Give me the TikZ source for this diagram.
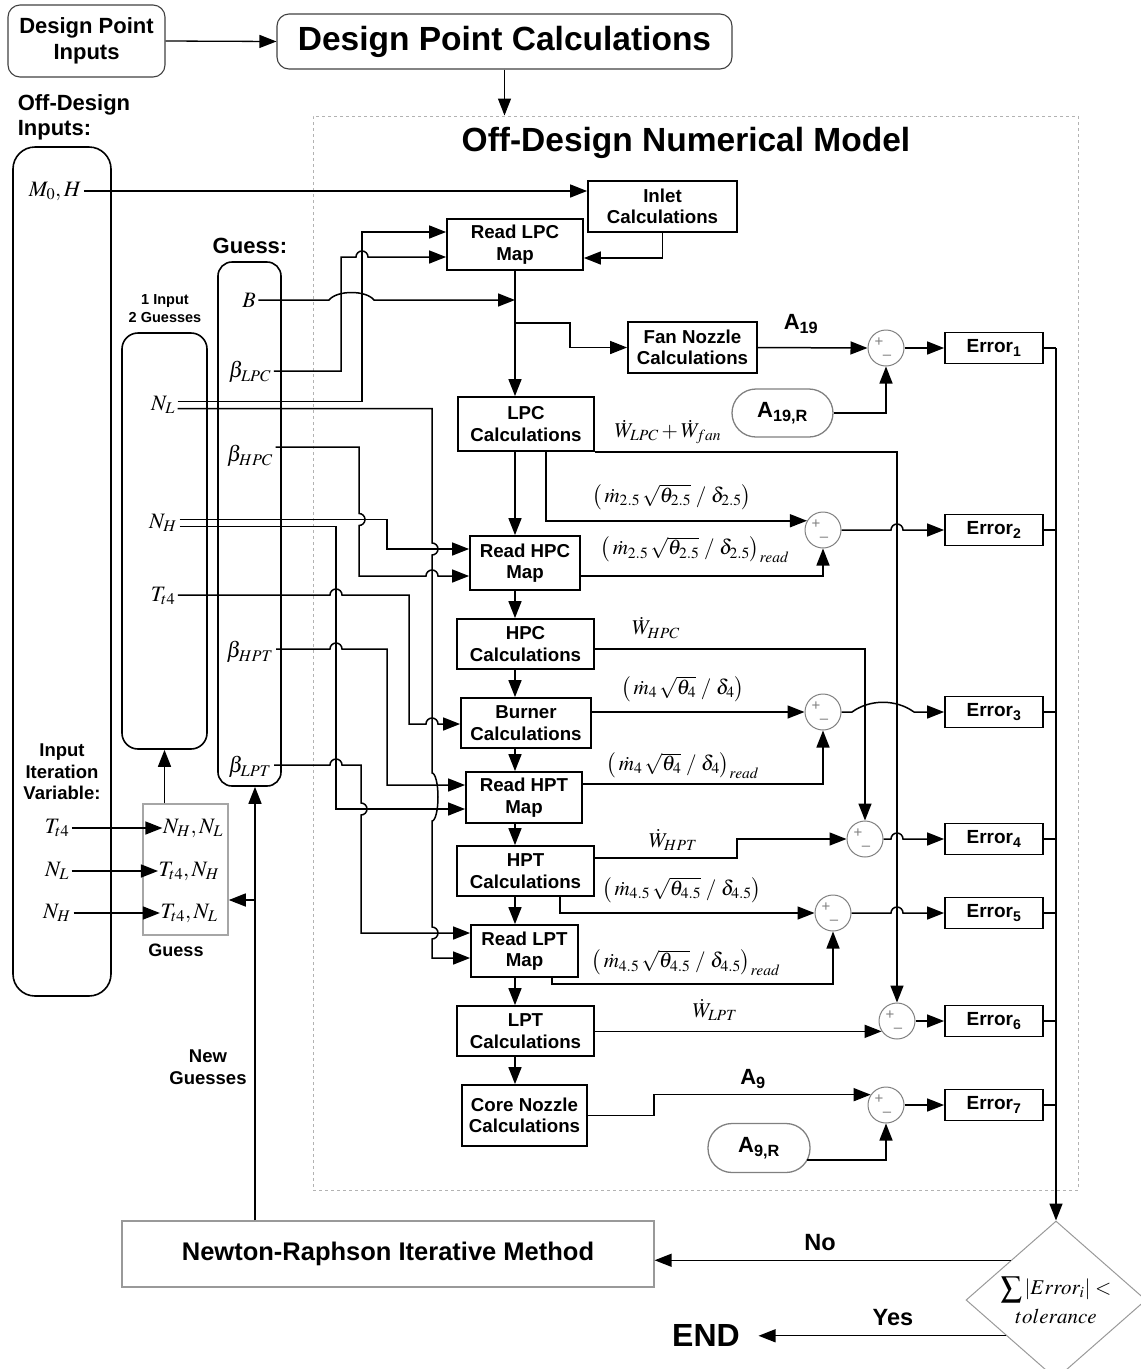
\documentclass[tikz,border=0pt]{standalone}
\usepackage{mathptmx}
\usepackage[no-math]{fontspec}
\setmainfont{Liberation Sans}
\usetikzlibrary{arrows.meta,calc,shapes.geometric}
\newcommand\hj[2]{-- ({#1-6},#2) arc[start angle=180,end angle=0,radius=6pt]}
\newcommand\vj[2]{-- (#1,{#2-6}) arc[start angle=90,end angle=-90,radius=6pt]}
\newcommand\fs[2]{\fontsize{#1}{#2}\selectfont}
\begin{document}
\begin{tikzpicture}[x=1pt,y=-1pt,line width=1.5pt,
  arr/.style={-{Triangle[length=17pt,width=13pt]}},
  blk/.style={draw,line width=1.8pt,fill=white,align=center,inner sep=0pt,font=\fs{18.7}{21.5}\bfseries},
  err/.style={blk,minimum width=98pt,minimum height=31pt,font=\fs{19}{21}\bfseries},
  sumc/.style={circle,draw=gray,line width=1pt,minimum size=36pt,inner sep=0pt,fill=white},
  sgn/.style={text=gray,font=\fs{15}{15},inner sep=0pt},
  refn/.style={draw=gray,line width=1.3pt,rounded corners=24pt,inner sep=0pt,font=\fs{22}{24}\bfseries},
  ml/.style={font=\fs{21}{24},inner sep=1pt},
  vl/.style={font=\fs{22}{24},inner sep=2pt},
  lbl/.style={font=\fs{18.5}{21.5}\bfseries,align=center,inner sep=0pt},
  colbox/.style={draw,line width=1.6pt},
  topbox/.style={draw=black!75,line width=1.1pt,rounded corners=12pt,align=center,inner sep=0pt}]
\useasboundingbox (0,0) rectangle (1141,1369);
\clip (0,0) rectangle (1141,1369);

% ---------- top ----------
\node[topbox,minimum width=157pt,minimum height=72pt,font=\fs{22}{26}\bfseries] (dpi) at (86.5,41) {Design Point\\Inputs};
\node[topbox,minimum width=455pt,minimum height=55pt,font=\fs{33.5}{36}\bfseries] (dpc) at (504.5,41.5) {Design Point Calculations};
\node[draw=gray!60,dashed,line width=1pt,minimum width=765pt,minimum height=1074pt,inner sep=0pt] (frame) at (695.5,653) {};
\node[font=\fs{33.5}{36}\bfseries] (title) at (686,143) {Off-Design Numerical Model};
\draw[arr,line width=1.3pt] (dpi.east) -- (dpc.west);
\draw[arr,line width=1.3pt] (dpc.south) -- (dpc.south |- frame.north);

% ---------- left columns ----------
\node[font=\fs{22}{24.5}\bfseries,align=left,anchor=north west,inner sep=0pt] (odi) at (17,94) {Off-Design\\Inputs:};
\node[colbox,rounded corners=22pt,minimum width=98pt,minimum height=849pt] (lb) at (62,571.5) {};
\node[colbox,rounded corners=16pt,minimum width=85pt,minimum height=416pt] (ib) at (164.5,541) {};
\node[colbox,rounded corners=14pt,minimum width=63pt,minimum height=524pt] (gbox) at (249.5,524) {};
\node[font=\fs{22}{24}\bfseries] (guessl) at (250,246) {Guess:};
\node[font=\fs{14.5}{18}\bfseries,align=center] (ig) at (165,309) {1 Input\\2 Guesses};

\node[vl] (M0) at (55,191) {$M_0,H$};
\node[vl] (B) at (249,300) {$B$};
\node[vl] (bLPC) at (250,372) {$\beta_{LPC}$};
\node[vl] (bHPC) at (250,456) {$\beta_{HPC}$};
\node[vl] (bHPT) at (250,652) {$\beta_{HPT}$};
\node[vl] (bLPT) at (250,767) {$\beta_{LPT}$};
\node[vl] (NL) at (163,405) {$N_L$};
\node[vl] (NH) at (163,523) {$N_H$};
\node[vl] (Tt4) at (163,596) {$T_{t4}$};

\node[lbl,font=\fs{18.5}{21.5}\bfseries] (iiv) at (62,772) {Input\\Iteration\\Variable:};
\node[vl] (iT) at (57,828) {$T_{t4}$};
\node[vl] (iL) at (57,871) {$N_L$};
\node[vl] (iH) at (57,913) {$N_H$};
\node[draw=gray!70,line width=1.5pt,minimum width=85pt,minimum height=131pt,inner sep=0pt] (gg) at (185.5,869.5) {};
\node[vl,inner sep=0pt] (g1) at (193,828) {$N_H,N_L$};
\node[vl,inner sep=0pt] (g2) at (189,871) {$T_{t4},N_H$};
\node[vl,inner sep=0pt] (g3) at (189,913) {$T_{t4},N_L$};
\node[lbl,font=\fs{18}{21}\bfseries] (gl) at (176,950) {Guess};
\node[lbl] (ng) at (208,1067) {New\\Guesses};
\draw[arr] (iT.east) -- (g1.west);
\draw[arr] (iL.east) -- (g2.west);
\draw[arr] (iH.east) -- (g3.west);
\draw[arr] (gg.north -| ib.south) -- (ib.south);

% ---------- blocks ----------
\node[blk,minimum width=149pt,minimum height=51pt] (inlet) at (662.5,206.5) {Inlet\\Calculations};
\node[blk,minimum width=136pt,minimum height=51pt] (rlpc) at (515,244.5) {Read LPC\\Map};
\node[blk,minimum width=129pt,minimum height=51pt] (fan) at (692.5,347.5) {Fan Nozzle\\Calculations};
\node[blk,minimum width=136pt,minimum height=54pt] (lpc) at (526,424) {LPC\\Calculations};
\node[blk,minimum width=110pt,minimum height=54pt] (rhpc) at (525,563) {Read HPC\\Map};
\node[blk,minimum width=137pt,minimum height=50pt] (hpc) at (525.5,644) {HPC\\Calculations};
\node[blk,minimum width=130pt,minimum height=50pt] (burner) at (526,723) {Burner\\Calculations};
\node[blk,minimum width=116pt,minimum height=51pt] (rhpt) at (524,797.5) {Read HPT\\Map};
\node[blk,minimum width=137pt,minimum height=50pt] (hpt) at (525.5,871) {HPT\\Calculations};
\node[blk,minimum width=107pt,minimum height=52pt] (rlpt) at (524.5,951) {Read LPT\\Map};
\node[blk,minimum width=137pt,minimum height=50pt] (lpt) at (525.5,1031) {LPT\\Calculations};
\node[blk,minimum width=125pt,minimum height=61pt] (cn) at (524.5,1115.5) {Core Nozzle\\Calculations};

\node[err] (err1) at (994,348) {Error\textsubscript{1}};
\node[err] (err2) at (994,530) {Error\textsubscript{2}};
\node[err] (err3) at (994,712) {Error\textsubscript{3}};
\node[err] (err4) at (994,839) {Error\textsubscript{4}};
\node[err] (err5) at (994,913) {Error\textsubscript{5}};
\node[err] (err6) at (994,1021) {Error\textsubscript{6}};
\node[err] (err7) at (994,1105) {Error\textsubscript{7}};

\foreach \n/\p in {S1/{886,348},S2/{823,530},S3/{823,712},S4/{865,839},S5/{833,913},S6/{897,1021},S7/{886,1105}}{
  \node[sumc] (\n) at (\p) {};
  \node[sgn] (\n p) at ($(\n)+(-7,-6)$) {+};
  \node[sgn] (\n m) at ($(\n)+(1,9)$) {--};
}

\node[refn,minimum width=101pt,minimum height=48pt] (a19r) at (782.5,413) {A\textsubscript{19,R}};
\node[refn,minimum width=102pt,minimum height=49pt] (a9r) at (759,1148) {A\textsubscript{9,R}};
\node[font=\fs{22}{24}\bfseries] (a19) at (801,324) {A\textsubscript{19}};
\node[font=\fs{22}{24}\bfseries] (a9) at (753,1079) {A\textsubscript{9}};

% math labels
\node[ml] (lw1) at (668,432) {$\dot W_{LPC}+\dot W_{fan}$};
\node[ml] (lm25) at (672,497) {$\left(\,\dot m_{2.5}\,\sqrt{\theta_{2.5}}\;/\;\delta_{2.5}\right)$};
\node[ml] (lm25r) at (695,550) {$\left(\,\dot m_{2.5}\,\sqrt{\theta_{2.5}}\;/\;\delta_{2.5}\right)_{read}$};
\node[ml] (lwh) at (656,628) {$\dot W_{HPC}$};
\node[ml] (lm4) at (683,689) {$\left(\,\dot m_{4}\,\sqrt{\theta_{4}}\;/\;\delta_{4}\right)$};
\node[ml] (lm4r) at (683,766) {$\left(\,\dot m_{4}\,\sqrt{\theta_{4}}\;/\;\delta_{4}\right)_{read}$};
\node[ml] (lwt) at (673,840) {$\dot W_{HPT}$};
\node[ml] (lm45) at (682,890) {$\left(\,\dot m_{4.5}\,\sqrt{\theta_{4.5}}\;/\;\delta_{4.5}\right)$};
\node[ml] (lm45r) at (686,963) {$\left(\,\dot m_{4.5}\,\sqrt{\theta_{4.5}}\;/\;\delta_{4.5}\right)_{read}$};
\node[ml] (lwl) at (715,1010) {$\dot W_{LPT}$};

% ---------- bottom ----------
\node[draw=gray!80,line width=1.2pt,minimum width=532pt,minimum height=66pt,inner sep=0pt,font=\fs{25.5}{28}\bfseries] (nr) at (388,1254) {Newton-Raphson Iterative Method};
\node[diamond,draw=gray!80,line width=1pt,minimum width=180pt,minimum height=158pt,inner sep=0pt] (D) at (1056,1300) {};
\node[font=\fs{21}{33},align=center,inner sep=0pt] (dt) at (1056,1300) {$\displaystyle\sum\left|Error_i\right|<$\\[-4pt]$tolerance$};
\node[font=\fs{32}{34}\bfseries,inner xsep=18pt,inner ysep=0pt] (endn) at (706,1335) {END};
\node[font=\fs{23.5}{26}\bfseries] (nol) at (820,1243) {No};
\node[font=\fs{23.5}{26}\bfseries] (yesl) at (893,1318) {Yes};
\coordinate (dno) at ($(D.north)!0.5!(D.west)$);
\coordinate (dye) at ($(D.west)!0.45!(D.south)$);
\draw[arr,line width=1.3pt] (dno) -- (dno -| nr.east);
\draw[arr,line width=1.3pt] (dye) -- (dye -| endn.east);
\draw[arr] (nr.north -| 255,0) -- (gbox.south -| 255,0);
\coordinate (ngb) at (255,900);
\draw[arr] (ngb) -- (ngb -| gg.east);

% ---------- connectors ----------
\draw[arr] (M0.east) -- (M0.east -| inlet.west);
\draw[arr] (inlet.south) |- ($(rlpc.east)+(0,13.5)$);
\draw[arr] (rlpc.south) -- (rlpc.south |- lpc.north);
\draw[arr] ($(rlpc.south)+(0,52)$) -- ++(55,0) |- (fan.west);
\draw[arr] (B.east) -- (329,300) .. controls (337,290) and (366,290) .. (374,300) -- (rlpc.south |- B.east);
\draw[arr] (bLPC.east |- 0,371) -- (341,371) -- (341,257) \hj{362}{257} -- (rlpc.west |- 0,257);
\draw[arr] ($(NL.east)+(0,-3.5)$) -- (362,401.5) -- (362,232) -- (rlpc.west |- 0,232);
\draw[arr] ($(NL.east)+(0,3.5)$) -- (432,408.5) \vj{432}{549} -- (432,773) arc[start angle=90,end angle=-90,x radius=6pt,y radius=24pt] \vj{432}{933} -- (432,958) -- (rlpt.west |- 0,958);
\draw[arr] ($(NH.east)+(0,-3.5)$) -- (387,519.5) -- (387,549) -- (rhpc.west |- 0,549);
\draw[arr] ($(NH.east)+(0,3.5)$) -- (336,526.5) -- (336,809) -- (rhpt.west |- 0,809);
\draw[arr] (bHPC.east |- 0,447) -- (359,447) \vj{359}{519.5} -- (359,576) \hj{432}{576} -- (rhpc.west |- 0,576);
\draw[arr] (Tt4.east |- 0,595) \hj{336}{595} -- (409,595) -- (409,724) \hj{432}{724} -- (burner.west |- 0,724);
\draw[arr] (bHPT.east |- 0,649) \hj{336}{649} -- (387,649) -- (387,785) -- (rhpt.west |- 0,785);
\draw[arr] (bLPT.east |- 0,765) \hj{336}{765} -- (361,765) \vj{361}{809} -- (361,933) -- (rlpt.west |- 0,933);

% main column
\draw[arr] (lpc.south -| rlpc.south) -- (rhpc.north -| rlpc.south);
\draw[arr] (rhpc.south -| rlpc.south) -- (hpc.north -| rlpc.south);
\draw[arr] (hpc.south -| rlpc.south) -- (burner.north -| rlpc.south);
\draw[arr] (burner.south -| rlpc.south) -- (rhpt.north -| rlpc.south);
\draw[arr] (rhpt.south -| rlpc.south) -- (hpt.north -| rlpc.south);
\draw[arr] (hpt.south -| rlpc.south) -- (rlpt.north -| rlpc.south);
\draw[arr] (rlpt.south -| rlpc.south) -- (lpt.north -| rlpc.south);
\draw[arr] (lpt.south -| rlpc.south) -- (cn.north -| rlpc.south);

% right side
\draw[arr] (fan.east) -- (S1.west);
\draw[arr] (a19r.east) -| (S1.south);
\draw[arr] (S1.east) -- (err1.west);
\draw[arr] (lpc.south east) -| (S6.north);
\draw[arr] (lpc.south -| 546,0) |- (S2.150);
\draw[arr] (rhpc.east |- 0,576) -| (S2.south);
\draw[arr] (S2.east) \hj{897}{530} -- (err2.west);
\draw[arr] ($(hpc.east)+(0,5)$) -| (S4.north);
\draw[arr] (burner.east |- 0,712) -- (S3.west);
\draw[arr] (S3.east) -- (852,712) .. controls (870,699) and (896,699) .. (914,712) -- (err3.west);
\draw[arr] (rhpt.east |- 0,784) -| (S3.south);
\draw[arr] (hpt.east |- 0,858) -- (737,858) |- (S4.west);
\draw[arr] (S4.east) \hj{897}{839} -- (err4.west);
\draw[arr] (hpt.south -| 560,0) |- (S5.west);
\draw[arr] (S5.east) \hj{897}{913} -- (err5.west);
\draw[arr] (rlpt.south -| 552,0) -- (552,984) -| (S5.south);
\draw[arr] (lpt.east |- S6.214) -- (S6.214);
\draw[arr] (S6.east) -- (err6.west);
\draw[arr] (cn.east) -- (654,1115.5) |- (S7.146);
\draw[arr] ($(a9r.east)+(-3.2,12)$) -| (S7.south);
\draw[arr] (S7.east) -- (err7.west);

% collection
\foreach \e in {err1,err2,err3,err4,err5,err6,err7}{
  \draw (\e.east) -- (\e.east -| D.north);
}
\draw[arr] (err1.east -| D.north) -- (D.north);
\end{tikzpicture}
\end{document}
